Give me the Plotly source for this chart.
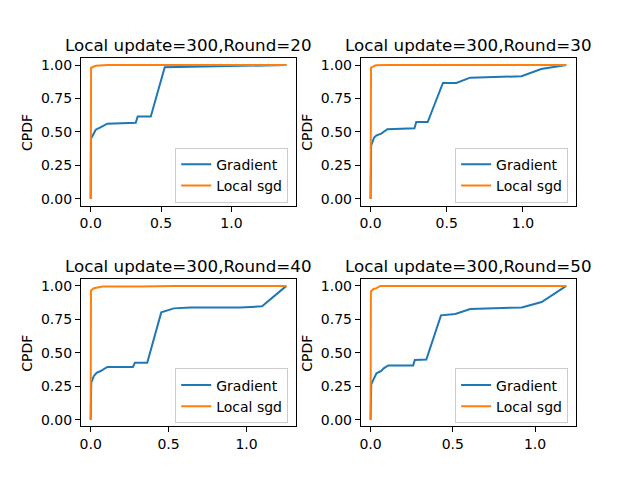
import plotly.graph_objects as go

# Round=20
r20_grad_x = [0.0, 0.002, 0.012, 0.036, 0.066, 0.118, 0.32, 0.334, 0.427, 0.526, 1.39]
r20_grad_y = [0.0, 0.45, 0.468, 0.517, 0.532, 0.562, 0.569, 0.616, 0.616, 0.983, 1.0]
r20_sgd_x = [0.0, 0.003, 0.036, 0.12, 1.39]
r20_sgd_y = [0.0, 0.98, 0.995, 1.0, 1.0]

# Round=30
r30_grad_x = [0.0, 0.004, 0.023, 0.04, 0.07, 0.11, 0.288, 0.30, 0.375, 0.475, 0.563, 0.654, 0.991, 1.12, 1.285]
r30_grad_y = [0.0, 0.40, 0.458, 0.475, 0.488, 0.52, 0.527, 0.574, 0.574, 0.866, 0.866, 0.906, 0.916, 0.97, 1.0]
r30_sgd_x = [0.0, 0.003, 0.034, 0.11, 1.285]
r30_sgd_y = [0.0, 0.98, 0.998, 1.0, 1.0]

# Round=40
r40_grad_x = [0.0, 0.004, 0.021, 0.038, 0.064, 0.107, 0.271, 0.284, 0.363, 0.453, 0.534, 0.64, 0.96, 1.10, 1.256]
r40_grad_y = [0.0, 0.28, 0.327, 0.351, 0.364, 0.394, 0.394, 0.426, 0.426, 0.802, 0.832, 0.839, 0.839, 0.847, 1.0]
r40_sgd_x = [0.0, 0.002, 0.021, 0.075, 0.32, 0.53, 1.256]
r40_sgd_y = [0.0, 0.965, 0.983, 0.995, 0.995, 1.0, 1.0]

# Round=50
r50_grad_x = [0.0, 0.004, 0.02, 0.036, 0.065, 0.08, 0.107, 0.259, 0.269, 0.339, 0.428, 0.515, 0.606, 0.919, 1.04, 1.19]
r50_grad_y = [0.0, 0.265, 0.307, 0.347, 0.364, 0.384, 0.406, 0.406, 0.446, 0.45, 0.78, 0.79, 0.827, 0.839, 0.879, 1.0]
r50_sgd_x = [0.0, 0.002, 0.016, 0.036, 0.06, 1.19]
r50_sgd_y = [0.0, 0.958, 0.975, 0.983, 1.0, 1.0]

titles = ["Local update=300,Round=20", "Local update=300,Round=30",
          "Local update=300,Round=40", "Local update=300,Round=50"]
panels = [
    (r20_grad_x, r20_grad_y, r20_sgd_x, r20_sgd_y),
    (r30_grad_x, r30_grad_y, r30_sgd_x, r30_sgd_y),
    (r40_grad_x, r40_grad_y, r40_sgd_x, r40_sgd_y),
    (r50_grad_x, r50_grad_y, r50_sgd_x, r50_sgd_y),
]

W, H = 640, 480
# matplotlib-like subplot geometry (left=.125, right=.9, bottom=.11, top=.88, wspace=.3, hspace=.5)
aw = 496 / 2.3
ah = 369.6 / 2.5
x_doms = [[0.125, 0.125 + aw / W], [0.9 - aw / W, 0.9]]
y_doms = [[0.88 - ah / H, 0.88], [0.11, 0.11 + ah / H]]

font = dict(family="DejaVu Sans", size=14, color="black")
fig = go.Figure()
layout = dict(width=W, height=H, margin=dict(l=0, r=0, t=0, b=0),
              paper_bgcolor="white", plot_bgcolor="white", font=font,
              annotations=[])

for i, (gx, gy, sx, sy) in enumerate(panels):
    row, col = divmod(i, 2)
    n = "" if i == 0 else str(i + 1)
    leg = "legend" + n
    fig.add_trace(go.Scatter(x=gx, y=gy, mode="lines", name="Gradient",
                             line=dict(color="#1f77b4", width=2),
                             xaxis="x" + n, yaxis="y" + n, legend=leg))
    fig.add_trace(go.Scatter(x=sx, y=sy, mode="lines", name="Local sgd",
                             line=dict(color="#ff7f0e", width=2),
                             xaxis="x" + n, yaxis="y" + n, legend=leg))
    xmin = min(gx + sx)
    xmax = max(gx + sx)
    pad = 0.05 * (xmax - xmin)
    axis_common = dict(showline=True, mirror=True, linecolor="black", linewidth=1,
                       ticks="outside", ticklen=5, tickcolor="black",
                       showgrid=False, zeroline=False, tickfont=font)
    layout["xaxis" + n] = dict(domain=x_doms[col], anchor="y" + n,
                               range=[xmin - pad, xmax + pad], dtick=0.5,
                               tickformat=".1f", **axis_common)
    layout["yaxis" + n] = dict(domain=y_doms[row], anchor="x" + n,
                               range=[-0.05, 1.05], dtick=0.25,
                               tickformat=".2f", **axis_common)
    layout[leg] = dict(x=x_doms[col][1] - 8 / W, y=y_doms[row][0] + 3 / H,
                       xanchor="right", yanchor="bottom", itemwidth=30,
                       bordercolor="#cccccc", borderwidth=1,
                       bgcolor="rgba(255,255,255,0.8)", font=font)
    layout["annotations"].append(dict(
        text=titles[i], xref="paper", yref="paper",
        x=(x_doms[col][0] + x_doms[col][1]) / 2, y=y_doms[row][1],
        xanchor="center", yanchor="bottom", yshift=1.5, showarrow=False,
        font=dict(family="DejaVu Sans", size=16.7, color="black")))
    layout["annotations"].append(dict(
        text="CPDF", xref="paper", yref="paper",
        x=x_doms[col][0] - 54 / W, y=(y_doms[row][0] + y_doms[row][1]) / 2,
        xanchor="center", yanchor="middle", textangle=-90, showarrow=False,
        font=font))

fig.update_layout(**layout)
fig.write_html("out.html", config={"displayModeBar": False},
               post_script="document.body.style.margin='0';")
